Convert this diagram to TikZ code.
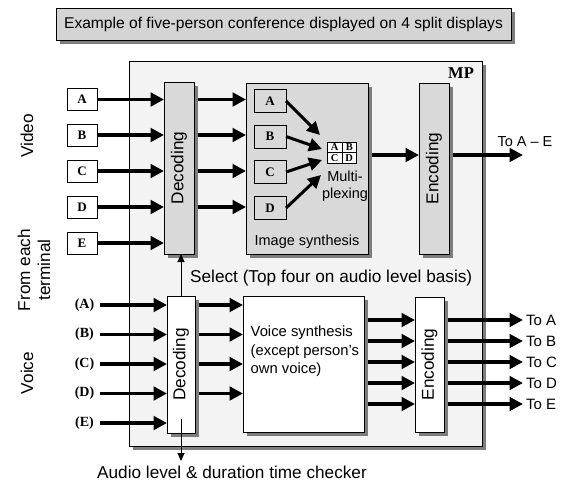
\documentclass[tikz,border=0pt]{standalone}
\usepackage{fontspec}
\setmainfont{Liberation Sans}
\newfontfamily\tms{Liberation Serif}
\usetikzlibrary{arrows.meta,shadows}
\definecolor{boxgray}{RGB}{217,217,217}
\definecolor{mpgray}{RGB}{243,243,243}
\definecolor{titlegray}{RGB}{212,212,212}
\definecolor{shadowgray}{RGB}{125,125,125}
\begin{document}
\begin{tikzpicture}[x=1pt,y=-1pt,
  sbox/.style={draw=black, line width=0.9pt, inner sep=0pt, outer sep=0pt,
    drop shadow={shadow xshift=3.5pt, shadow yshift=-3.5pt, fill=shadowgray, opacity=1}},
  pbox/.style={draw=black, line width=0.9pt, inner sep=0pt, outer sep=0pt},
  bigarrow/.style={line width=3.4pt, -{Triangle[length=13.5pt,width=13.5pt]}},
  midarrow/.style={line width=3pt, -{Triangle[length=13pt,width=13pt]}},
  thinarrow/.style={line width=0.9pt, -{Triangle[length=8pt,width=7pt]}},
  lbl/.style={font=\fontsize{17.2}{20}\selectfont, inner sep=0pt},
  sml/.style={font=\fontsize{14.5}{17}\selectfont, inner sep=0pt},
  letr/.style={font=\tms\bfseries\fontsize{13}{14}\selectfont, inner sep=0pt},
  tiny/.style={font=\tms\bfseries\fontsize{10.5}{10.5}\selectfont, inner sep=0pt},
]
\useasboundingbox (0,0) rectangle (561,483);

% title
\node[sbox, fill=titlegray, minimum width=455pt, minimum height=32pt] (title) at (283.5,24.5)
  {\fontsize{15.6}{18}\selectfont Example of five-person conference displayed on 4 split displays};

% MP frame
\node[sbox, fill=mpgray, minimum width=353pt, minimum height=385pt] (mp) at (305.5,253.5) {};
\node[font=\tms\bfseries\fontsize{16.5}{18}\selectfont, inner sep=0pt] (mpl) at (461,73) {MP};

% left labels
\node[lbl, rotate=90] (lvideo) at (27,136) {Video};
\node[lbl, rotate=90, align=center] (lfrom) at (34,270) {From each\\terminal};
\node[lbl, rotate=90] (lvoice) at (27,373) {Voice};

% video inputs
\foreach \n/\y in {A/99.5,B/135,C/171,D/207,E/243}{
  \node[pbox, fill=white, minimum width=30pt, minimum height=22pt, letr] (v\n) at (82,\y) {\n};
}
\node[sbox, fill=boxgray, minimum width=30pt, minimum height=172pt] (vdec) at (179,168) {};
\node[lbl, rotate=90] (vdect) at (vdec.center) {Decoding};
\foreach \n in {A,B,C,D,E}{
  \draw[bigarrow] (v\n.east) -- (vdec.west |- v\n.east);
}

% image synthesis
\node[sbox, fill=boxgray, minimum width=122pt, minimum height=171pt] (synth) at (307,168.5) {};
\node[sml] (synt) at (307,242) {Image synthesis};
\foreach \n/\y in {A/101,B/136.5,C/172,D/208}{
  \node[pbox, fill=boxgray, minimum width=32pt, minimum height=23pt, letr] (s\n) at (270,\y) {\n};
  \draw[bigarrow] ([xshift=3.5pt]vdec.east |- v\n.east) -- (synth.west |- v\n.east);
}
% grid
\node[pbox, fill=white, minimum width=14.5pt, minimum height=10.5pt, tiny] (gA) at (334.75,147.25) {A};
\node[pbox, fill=white, minimum width=14.5pt, minimum height=10.5pt, tiny] (gB) at (349.25,147.25) {B};
\node[pbox, fill=white, minimum width=14.5pt, minimum height=10.5pt, tiny] (gC) at (334.75,157.75) {C};
\node[pbox, fill=white, minimum width=14.5pt, minimum height=10.5pt, tiny] (gD) at (349.25,157.75) {D};
\node[sml, align=center] (mux) at (345,186.5) {Multi-\\plexing};
\coordinate (tA) at (320,135);
\coordinate (tB) at (322,149);
\coordinate (tC) at (322,160);
\coordinate (tD) at (321,175);
\draw[midarrow] (sA.east) -- (tA);
\draw[midarrow] (sB.east) -- (tB);
\draw[midarrow] (sC.east) -- (tC);
\draw[midarrow] (sD.east) -- (tD);

% video encoding
\node[sbox, fill=boxgray, minimum width=30pt, minimum height=171pt] (venc) at (434,168.5) {};
\node[lbl, rotate=90] (venct) at (venc.center) {Encoding};
\coordinate (muxout) at (371.5,155);
\draw[bigarrow] (muxout) -- (venc.west |- muxout);
\coordinate (vout) at (523,155);
\draw[bigarrow] ([xshift=3.5pt]venc.east |- vout) -- (vout);
\node[sml, anchor=south] (toae) at (525,147) {To A -- E};

% voice decoding
\node[sbox, fill=white, minimum width=28pt, minimum height=137pt] (adec) at (181,364.5) {};
\node[lbl, rotate=90] (adect) at (adec.center) {Decoding};
\draw[thinarrow] (adec.north) -- (adec.north |- vdec.south);
\node[lbl, anchor=west] (sel) at (190,278) {Select (Top four on audio level basis)};

\foreach \n/\y in {A/305,B/334.5,C/364,D/393.5,E/423}{
  \node[letr, font=\tms\bfseries\fontsize{14}{15}\selectfont] (a\n) at (84.5,\y) {(\n)};
  \coordinate (as\n) at (100,\y);
  \draw[bigarrow] (as\n) -- (adec.west |- as\n);
}

% voice synthesis
\node[sbox, fill=white, minimum width=121pt, minimum height=136pt] (vsyn) at (303.5,364) {};
\node[sml, align=left, anchor=north west, font=\fontsize{14.8}{18.5}\selectfont] (vsynt) at (250.5,326)
  {Voice synthesis\\(except person's\\own voice)};
\foreach \n in {A,B,C,D}{
  \draw[bigarrow] ([xshift=3.5pt]adec.east |- as\n) -- (vsyn.west |- as\n);
}

% voice encoding
\node[sbox, fill=white, minimum width=29pt, minimum height=135pt] (aenc) at (429.5,364.5) {};
\node[lbl, rotate=90] (aenct) at (aenc.center) {Encoding};
\foreach \n/\y in {A/320,B/341,C/362,D/383,E/404}{
  \coordinate (ai\n) at (368,\y);
  \draw[bigarrow] (ai\n) -- (aenc.west |- ai\n);
  \coordinate (ao\n) at (523,\y);
  \draw[bigarrow] ([xshift=3.5pt]aenc.east |- ao\n) -- (ao\n);
  \node[sml, anchor=west, font=\fontsize{15}{17}\selectfont] (to\n) at (526,\y) {To \n};
}

% audio level checker
\coordinate (aud1) at (181,419);
\coordinate (aud2) at (181,461);
\draw[thinarrow] (aud1) -- (aud2);
\node[lbl, anchor=base west] (audt) at (97,478.5) {Audio level \& duration time checker};
\end{tikzpicture}
\end{document}
